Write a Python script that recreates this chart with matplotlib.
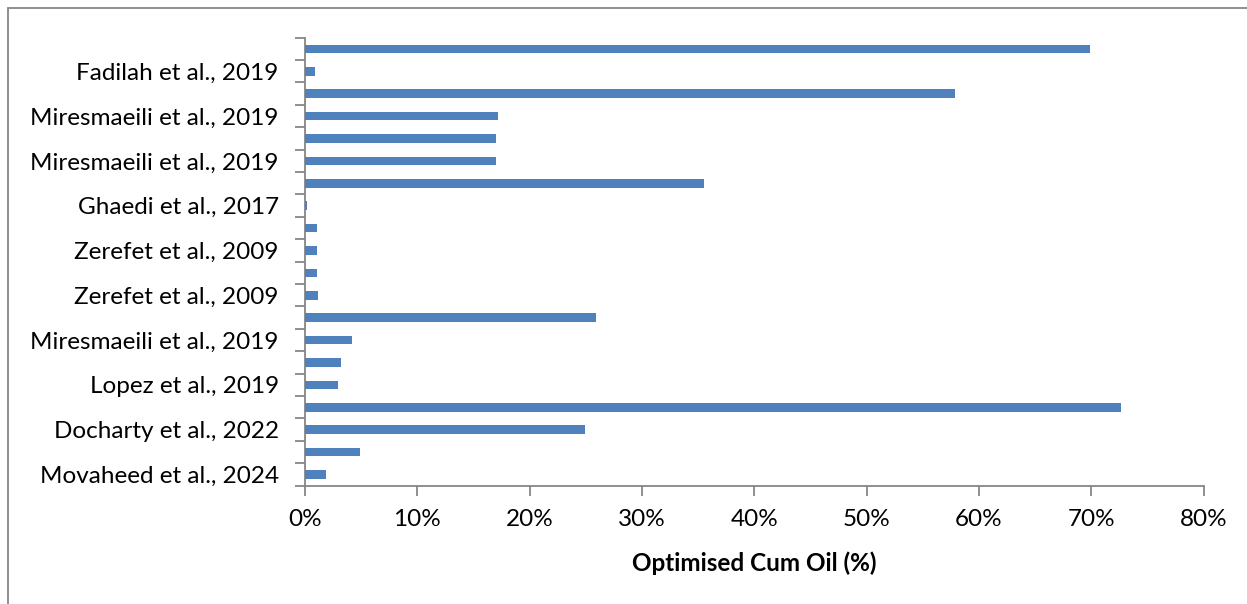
import matplotlib.pyplot as plt
from matplotlib.patches import Rectangle
import numpy as np

# bars listed bottom to top
cum_oil = [1.9, 4.9, 24.9, 72.6, 2.95, 3.2, 4.2, 25.9, 1.2, 1.1,
           1.1, 1.07, 0.2, 35.5, 17.0, 17.0, 17.2, 57.9, 0.9, 69.9]
# Excel only printed every other category label (bottom to top)
shown_labels = ["Movaheed et al., 2024", "Docharty et al., 2022", "Lopez et al., 2019",
                "Miresmaeili et al., 2019", "Zerefet et al., 2009", "Zerefet et al., 2009",
                "Ghaedi et al., 2017", "Miresmaeili et al., 2019", "Miresmaeili et al., 2019",
                "Fadilah et al., 2019"]
x_ticks = [0, 10, 20, 30, 40, 50, 60, 70, 80]

plt.rcParams["font.family"] = ["Lato", "DejaVu Sans"]

fig = plt.figure(figsize=(12.47, 6.04), dpi=100)
ax = fig.add_axes([0.2446, 0.1959, 0.7207, 0.7417])

n = len(cum_oil)
pos = np.arange(n)
ax.barh(pos, cum_oil, height=0.39, color="#4F81BD", zorder=3)

ax.set_xlim(0, 80)
ax.set_ylim(-0.5, n - 0.5)

grey = "#868686"
for side in ["top", "right"]:
    ax.spines[side].set_visible(False)
for side in ["left", "bottom"]:
    ax.spines[side].set_color(grey)
    ax.spines[side].set_linewidth(1.3)

ax.set_xticks(x_ticks)
ax.set_xticklabels([f"{t}%" for t in x_ticks], fontsize=17.5)
ax.tick_params(axis="x", length=7, width=1.3, color=grey, pad=10)

# labels at every other bar, tick marks at category boundaries
ax.set_yticks(pos[::2])
ax.set_yticklabels(shown_labels, fontsize=17.5)
ax.tick_params(axis="y", which="major", length=0, pad=19)
ax.set_yticks(np.arange(n + 1) - 0.5, minor=True)
ax.tick_params(axis="y", which="minor", length=7, width=1.3, color=grey)

ax.set_xlabel("Optimised Cum Oil (%)", fontsize=17.5, fontweight="bold", labelpad=15)

# chart area border (only top and left visible in the crop)
fig.add_artist(Rectangle((8 / 1247, -0.1), 1.2, 1 - 8 / 604 + 0.1,
                         transform=fig.transFigure, fill=False,
                         edgecolor=grey, linewidth=1.3))

fig.savefig("out.png", dpi=100)
